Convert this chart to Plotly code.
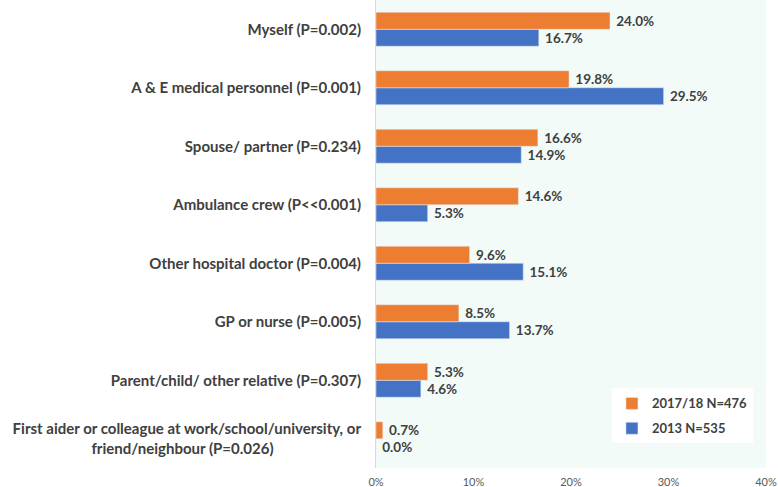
import plotly.graph_objects as go

categories = [
    "Myself (P=0.002)",
    "A & E medical personnel (P=0.001)",
    "Spouse/ partner (P=0.234)",
    "Ambulance crew (P<<0.001)",
    "Other hospital doctor (P=0.004)",
    "GP or nurse (P=0.005)",
    "Parent/child/ other relative (P=0.307)",
    "First aider or colleague at work/school/university, or<br>friend/neighbour (P=0.026)" + "\u00a0" * 24,
]
vals_2017 = [24.0, 19.8, 16.6, 14.6, 9.6, 8.5, 5.3, 0.7]
vals_2013 = [16.7, 29.5, 14.9, 5.3, 15.1, 13.7, 4.6, 0.0]
name_2017 = "2017/18 N=476"
name_2013 = "2013 N=535"
x_ticks = [0, 10, 20, 30, 40]

FONT = "Lato, 'Open Sans', sans-serif"
TXT = "#404040"

fig = go.Figure()
fig.add_trace(go.Bar(
    y=categories, x=vals_2013, orientation="h", name=name_2013,
    marker_color="#4472C4", text=[f"\u00a0{v:.1f}%" for v in vals_2013],
    textposition="outside", cliponaxis=False,
    textfont=dict(family=FONT, size=13.5, color=TXT, weight="bold"),
    legendrank=2, legendgroup="b", hoverinfo="skip",
))
fig.add_trace(go.Bar(
    y=categories, x=vals_2017, orientation="h", name=name_2017,
    marker_color="#ED7D31", text=[f"\u00a0{v:.1f}%" for v in vals_2017],
    textposition="outside", cliponaxis=False,
    textfont=dict(family=FONT, size=13.5, color=TXT, weight="bold"),
    legendrank=1, legendgroup="a", hoverinfo="skip",
))

fig.update_layout(
    width=778, height=487,
    margin=dict(l=376, r=12, t=0, b=19),
    barmode="group", bargap=0.42, bargroupgap=0,
    paper_bgcolor="white", plot_bgcolor="#f2fbf8",
    font=dict(family=FONT, color=TXT),
    showlegend=True,
    legend=dict(
        x=0.605, y=0.17, xanchor="left", yanchor="top",
        bgcolor="white", borderwidth=0,
        font=dict(family=FONT, size=13, color=TXT, weight="bold"),
        traceorder="grouped", tracegroupgap=5, itemwidth=30,
    ),
)
fig.update_yaxes(
    categoryorder="array", categoryarray=categories[::-1],
    autorange=False, range=[-0.5, 7.5], automargin=False,
    showline=True, linecolor="#d9d9d9", linewidth=1,
    showgrid=False, ticks="", ticklabelstandoff=11,
    tickfont=dict(family=FONT, size=15, color=TXT, weight="bold"),
)
fig.update_xaxes(
    range=[0, 40], tickvals=x_ticks, ticktext=[f"{t}%" for t in x_ticks],
    showgrid=False, zeroline=False, showline=False, ticks="",
    automargin=False, ticklabelstandoff=6,
    tickfont=dict(family=FONT, size=11, color="#595959"),
)

fig.write_html(
    "out.html",
    config={"displayModeBar": False},
    post_script="document.body.style.margin='0';document.body.style.padding='0';",
)
